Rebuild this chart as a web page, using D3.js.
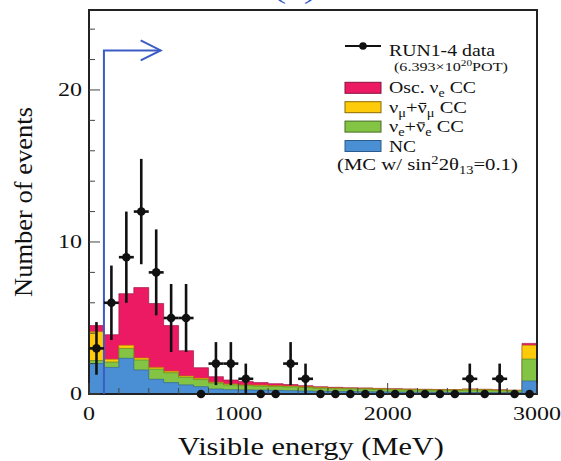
<!DOCTYPE html>
<html><head><meta charset="utf-8">
<script src="https://cdn.jsdelivr.net/npm/d3@7"></script>
<style>
body{margin:0;background:#fff}
svg{display:block}
text{font-family:"Liberation Serif","Times New Roman",serif;fill:#111}
</style>
</head><body>
<svg id="c" width="561" height="461"></svg>
<script>
// ---- data ----
const binLow = [0,100,200,300,400,500,600,700,800,900,1000,1100,1200,1300,1400,1500,1600,1700,1800,1900,2000,2100,2200,2300,2400,2500,2600,2700,2800,2900];
const binWidth = 100;
const dataCounts = [3,6,9,12,8,5,5,0,2,2,1,0,0,2,1,0,0,0,0,0,0,0,0,0,0,1,0,1,0,0];
const mcNC   = [2.0,1.75,2.35,1.58,0.97,0.75,0.6,0.48,0.33,0.28,0.27,0.26,0.24,0.22,0.2,0.18,0.17,0.16,0.15,0.14,0.13,0.12,0.12,0.11,0.1,0.1,0.1,0.09,0.09,0.86];
const mcNue  = [0.2,0.35,0.65,0.66,0.67,0.65,0.5,0.47,0.39,0.32,0.28,0.26,0.26,0.25,0.23,0.2,0.18,0.18,0.18,0.16,0.15,0.15,0.14,0.14,0.14,0.16,0.15,0.13,0.11,1.44];
const mcNumu = [1.9,0.18,0.2,0.13,0.11,0.1,0.08,0.08,0.06,0.06,0.05,0.06,0.05,0.05,0.05,0.05,0.05,0.04,0.04,0.05,0.05,0.04,0.04,0.03,0.04,0.06,0.05,0.05,0.04,0.9];
const mcOsc  = [0.4,1.62,3.4,4.63,4.2,3.0,1.67,0.7,0.36,0.26,0.22,0.17,0.13,0.1,0.07,0.05,0.04,0.03,0.03,0.02,0.02,0.02,0.01,0.02,0.01,0.01,0.01,0.01,0.01,0.13];
const xTicks = [0,1000,2000,3000];
const yTicks = [0,10,20];
const cutEnergy = 100, arrowLevel = 22.6, arrowEnd = 480;
const xTitle = "Visible energy (MeV)";
const yTitle = "Number of events";

// ---- layout ----
const svg = d3.select("#c");
const X0 = 89, X1 = 537, Y0 = 394, Y1 = 10;
const x = d3.scaleLinear().domain([0,3000]).range([X0,X1]);
const y = d3.scaleLinear().domain([0,25.26]).range([Y0,Y1]);
const colors = {osc:"#ec1a63", numu:"#fecb0a", nue:"#84c444", nc:"#4a8fd3"};

// cumulative stacks
const series = [mcNC, mcNue, mcNumu, mcOsc];
const cum = series.map((s,k)=> s.map((v,i)=> series.slice(0,k+1).reduce((a,b)=>a+b[i],0)));
const layerColors = [colors.nc, colors.nue, colors.numu, colors.osc];
const strokeColors = ["#2f5f95","#4f7d25","#a88400","#9a0f3f"];

const edges = binLow.concat([binLow[binLow.length-1]+binWidth]);
const area = d3.area().x(d=>x(d.e)).y0(y(0)).y1(d=>y(d.v)).curve(d3.curveStepAfter);
const line = d3.line().x(d=>x(d.e)).y(d=>y(d.v)).curve(d3.curveStepAfter);
for (let k=3;k>=0;k--){
  const pts = edges.map((e,i)=>({e, v: cum[k][Math.min(i,binLow.length-1)]}));
  svg.append("path").attr("d",area(pts)).attr("fill",layerColors[k]);
  svg.append("path").attr("d",line(pts)).attr("fill","none").attr("stroke",strokeColors[k]).attr("stroke-width",0.8).attr("opacity",0.8);
}

// frame
svg.append("rect").attr("x",X0).attr("y",Y1).attr("width",X1-X0).attr("height",Y0-Y1)
  .attr("fill","none").attr("stroke","#222").attr("stroke-width",2);

// y ticks
d3.range(0,25,2).forEach(v=>{
  const major = yTicks.includes(v);
  svg.append("line").attr("x1",X0).attr("x2",X0+(major?11:6)).attr("y1",y(v)).attr("y2",y(v)).attr("stroke","#444").attr("stroke-width",1);
});
// x ticks
d3.range(0,3001,200).forEach(v=>{
  const major = xTicks.includes(v);
  svg.append("line").attr("x1",x(v)).attr("x2",x(v)).attr("y1",Y0).attr("y2",Y0-(major?11:6)).attr("stroke","#444").attr("stroke-width",1);
});

// text helper: horizontally stretched to a target width via a scale transform
function label(g, px, py, str, size, width, anchor){
  const holder = g.append("g");
  const t = holder.append("text").attr("x",0).attr("y",0).attr("font-size",size).attr("text-anchor",anchor||"start");
  const bars = [];
  if (typeof str === "string") t.text(str);
  else {
    let idx = 0, shift = 0;
    str.forEach(p=>{
      const ts = t.append("tspan").text(p[0]);
      let target = 0;
      if (p[1]==="sub"){ target = size*0.25; ts.attr("font-size",size*0.7); }
      if (p[1]==="sup"){ target = -size*0.38; ts.attr("font-size",size*0.7); }
      if (target!==shift) ts.attr("dy", target-shift);
      shift = target;
      if (p[1]==="bar") bars.push(idx);
      idx += p[0].length;
    });
  }
  bars.forEach(ci=>{
    const r = t.node().getExtentOfChar(ci);
    holder.append("line").attr("x1",r.x+1.5).attr("x2",r.x+r.width-0.5)
      .attr("y1",-size*0.56).attr("y2",-size*0.56).attr("stroke","#111").attr("stroke-width",1.1);
  });
  let sx = 1;
  if (width){ const w = t.node().getComputedTextLength(); if (w>0) sx = width/w; }
  holder.attr("transform",`translate(${px},${py}) scale(${sx},1)`);
  return t;
}
yTicks.forEach(v=> label(svg, 82, y(v)+6, String(v), 18, 12*String(v).length, "end"));
xTicks.forEach(v=> label(svg, x(v), 420, String(v), 18, 12*String(v).length, "middle"));

label(svg, 311, 455, xTitle, 26, 266, "middle");
svg.append("g").attr("transform","translate(32,202) rotate(-90)")
  .call(g=>label(g,0,0,yTitle,25,190,"middle"));

// title fragment (cut off at the top, as in the reference)
label(svg, 295, -2, "(a)", 28, 44, "middle").style("fill","#3a5cc4");

// cut arrow
const arrowColor = "#3a5cc4";
svg.append("path").attr("d",`M${x(cutEnergy)},${y(0)} L${x(cutEnergy)},${y(arrowLevel)} L${x(arrowEnd)},${y(arrowLevel)}`)
  .attr("fill","none").attr("stroke",arrowColor).attr("stroke-width",2);
svg.append("path").attr("d",`M${x(arrowEnd)-20},${y(arrowLevel)-10} L${x(arrowEnd)},${y(arrowLevel)} L${x(arrowEnd)-20},${y(arrowLevel)+10}`)
  .attr("fill","none").attr("stroke",arrowColor).attr("stroke-width",2);

// data points
dataCounts.forEach((n,i)=>{
  const cx = x(binLow[i]+binWidth/2);
  if (n>0){
    const e = Math.sqrt(n);
    svg.append("line").attr("x1",cx).attr("x2",cx).attr("y1",y(n-e)).attr("y2",y(n+e)).attr("stroke","#111").attr("stroke-width",2.6);
    svg.append("line").attr("x1",x(binLow[i])).attr("x2",x(binLow[i]+binWidth)).attr("y1",y(n)).attr("y2",y(n)).attr("stroke","#111").attr("stroke-width",2.6);
  }
  svg.append("circle").attr("cx",cx).attr("cy",y(n)).attr("r",4.3).attr("fill","#111");
});

// legend
const lg = svg.append("g");
lg.append("line").attr("x1",345).attr("x2",381).attr("y1",46).attr("y2",46).attr("stroke","#111").attr("stroke-width",2);
lg.append("circle").attr("cx",363).attr("cy",46).attr("r",3.8).attr("fill","#111");
label(lg, 389, 56, "RUN1-4 data", 16.5, 106);
label(lg, 394, 71, [["(6.393×10"],["20","sup"],["POT)"]], 13, 114);
const legendEntries = [
  {c:colors.osc, s:"#8a1040", parts:[["Osc. ν"],["e","sub"],[" CC"]], w:87},
  {c:colors.numu, s:"#8a6a00", parts:[["ν"],["μ","sub"],["+"],["ν","bar"],["μ","sub"],[" CC"]], w:78},
  {c:colors.nue, s:"#456b22", parts:[["ν"],["e","sub"],["+"],["ν","bar"],["e","sub"],[" CC"]], w:75},
  {c:colors.nc, s:"#2b5a8c", parts:[["NC"]], w:27}
];
legendEntries.forEach((d,i)=>{
  const base = 93.3 + i*19.4;
  lg.append("rect").attr("x",345).attr("y",base-11).attr("width",36).attr("height",11).attr("fill",d.c).attr("stroke",d.s).attr("stroke-width",1);
  label(lg, 389, base, d.parts, 16.5, d.w);
});
label(lg, 337, 170, [["(MC w/ sin"],["2","sup"],["2θ"],["13","sub"],["=0.1)"]], 16.5, 181);
</script>
</body></html>
